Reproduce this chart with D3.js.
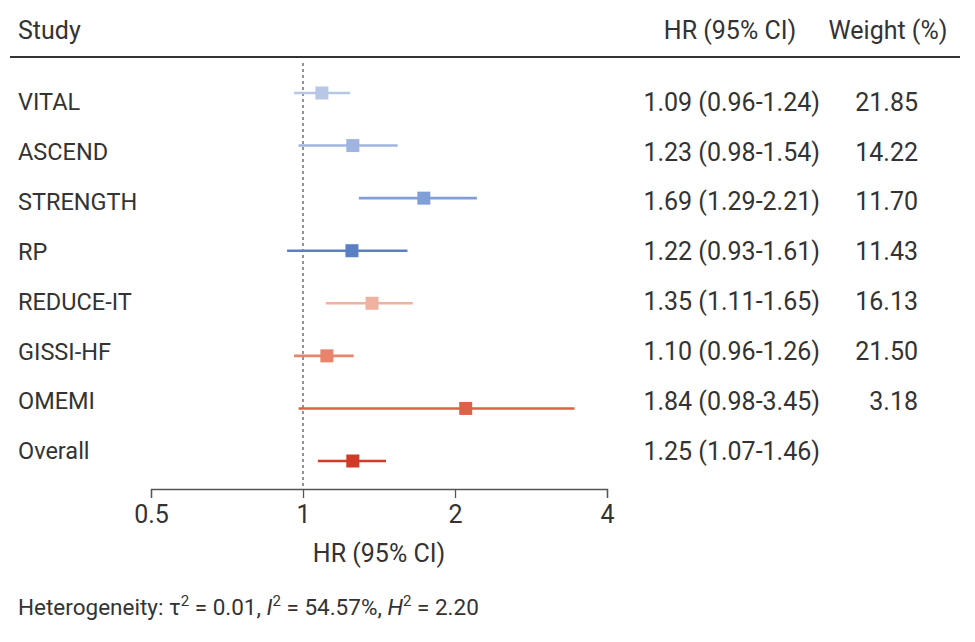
<!DOCTYPE html>
<html>
<head>
<meta charset="utf-8">
<script src="https://cdn.jsdelivr.net/npm/d3@7"></script>
<style>
  body { margin: 0; background: #fff; }
  svg text { font-family: Roboto, "Open Sans", sans-serif; fill: #333; font-size: 25px; }
  svg text.label { font-size: 23.5px; }
  svg text.foot { font-size: 22.5px; }
</style>
</head>
<body>
<div id="chart"></div>
<script>
// study rows
var studies = ["VITAL", "ASCEND", "STRENGTH", "RP", "REDUCE-IT", "GISSI-HF", "OMEMI", "Overall"];
var hrLabels = ["1.09 (0.96-1.24)", "1.23 (0.98-1.54)", "1.69 (1.29-2.21)", "1.22 (0.93-1.61)",
                "1.35 (1.11-1.65)", "1.10 (0.96-1.26)", "1.84 (0.98-3.45)", "1.25 (1.07-1.46)"];
var weights = ["21.85", "14.22", "11.70", "11.43", "16.13", "21.50", "3.18", ""];
// where the squares sit on the axis
var pointHR = [1.09, 1.255, 1.735, 1.25, 1.37, 1.115, 2.10, 1.255];
var lowerCI = [0.96, 0.98, 1.29, 0.93, 1.11, 0.96, 0.98, 1.07];
var upperCI = [1.24, 1.54, 2.21, 1.61, 1.65, 1.26, 3.45, 1.46];
var colors = ["#b7c7e6", "#9fb5df", "#809fd6", "#5b7fc3", "#f0b2a0", "#e8836c", "#dd6147", "#d03a26"];
var tickValues = [0.5, 1, 2, 4];

var width = 975, height = 642;

var svg = d3.select("#chart")
    .append("svg")
    .attr("width", width)
    .attr("height", height);

var x = d3.scaleLog().base(2)
    .domain([0.5, 4])
    .range([151, 607]);

// marks and labels sit on slightly different row spacings
var yMark = d3.scalePoint().domain(studies).range([93, 461]);
var yText = d3.scalePoint().domain(studies).range([102, 451]);

// header
svg.append("text").attr("x", 18).attr("y", 30).attr("dy", ".35em").text("Study");
svg.append("text").attr("x", 730).attr("y", 30).attr("dy", ".35em").attr("text-anchor", "middle")
    .text("HR (95% CI)");
svg.append("text").attr("x", 888).attr("y", 30).attr("dy", ".35em").attr("text-anchor", "middle")
    .text("Weight (%)");
svg.append("line")
    .attr("x1", 10).attr("x2", 960)
    .attr("y1", 57).attr("y2", 57)
    .attr("stroke", "#333").attr("stroke-width", 2.2);

// reference line at HR = 1
svg.append("line")
    .attr("x1", x(1)).attr("x2", x(1))
    .attr("y1", 63).attr("y2", 489)
    .attr("stroke", "#666").attr("stroke-width", 1.4)
    .attr("stroke-dasharray", "3,3");

var rows = svg.selectAll(".row")
    .data(studies)
    .enter().append("g")
    .attr("class", "row");

rows.append("line")
    .attr("x1", function(d, i) { return x(lowerCI[i]); })
    .attr("x2", function(d, i) { return x(upperCI[i]); })
    .attr("y1", function(d) { return yMark(d); })
    .attr("y2", function(d) { return yMark(d); })
    .attr("stroke", function(d, i) { return colors[i]; })
    .attr("stroke-width", 2.6);

var sq = 13;
rows.append("rect")
    .attr("x", function(d, i) { return x(pointHR[i]) - sq / 2; })
    .attr("y", function(d) { return yMark(d) - sq / 2; })
    .attr("width", sq)
    .attr("height", sq)
    .attr("fill", function(d, i) { return colors[i]; });

rows.append("text")
    .attr("class", "label")
    .attr("x", 18)
    .attr("y", function(d) { return yText(d); })
    .attr("dy", ".35em")
    .text(function(d) { return d; });

rows.append("text")
    .attr("x", 820)
    .attr("y", function(d) { return yText(d); })
    .attr("dy", ".35em")
    .attr("text-anchor", "end")
    .text(function(d, i) { return hrLabels[i]; });

rows.append("text")
    .attr("x", 918)
    .attr("y", function(d) { return yText(d); })
    .attr("dy", ".35em")
    .attr("text-anchor", "end")
    .text(function(d, i) { return weights[i]; });

// x axis
var axis = svg.append("g")
    .attr("transform", "translate(0,489)")
    .call(d3.axisBottom(x)
        .tickValues(tickValues)
        .tickFormat(function(d) { return d; })
        .tickSize(9)
        .tickSizeOuter(9)
        .tickPadding(7));
axis.selectAll("path, line").attr("stroke", "#555").attr("stroke-width", 1.3);
axis.selectAll("text")
    .style("font-size", "25px")
    .style("font-family", "Roboto, 'Open Sans', sans-serif")
    .attr("fill", "#333");

svg.append("text")
    .attr("x", 379).attr("y", 553)
    .attr("dy", ".35em")
    .attr("text-anchor", "middle")
    .text("HR (95% CI)");

// heterogeneity footnote
var foot = svg.append("text")
    .attr("class", "foot")
    .attr("x", 18).attr("y", 607)
    .attr("dy", ".35em");
foot.append("tspan").text("Heterogeneity: \u03c4");
foot.append("tspan").attr("dy", -9).style("font-size", "15px").text("2");
foot.append("tspan").attr("dy", 9).text(" = 0.01, ");
foot.append("tspan").style("font-style", "italic").text("I");
foot.append("tspan").attr("dy", -9).style("font-size", "15px").text("2");
foot.append("tspan").attr("dy", 9).text(" = 54.57%, ");
foot.append("tspan").style("font-style", "italic").text("H");
foot.append("tspan").attr("dy", -9).style("font-size", "15px").text("2");
foot.append("tspan").attr("dy", 9).text(" = 2.20");
</script>
</body>
</html>
